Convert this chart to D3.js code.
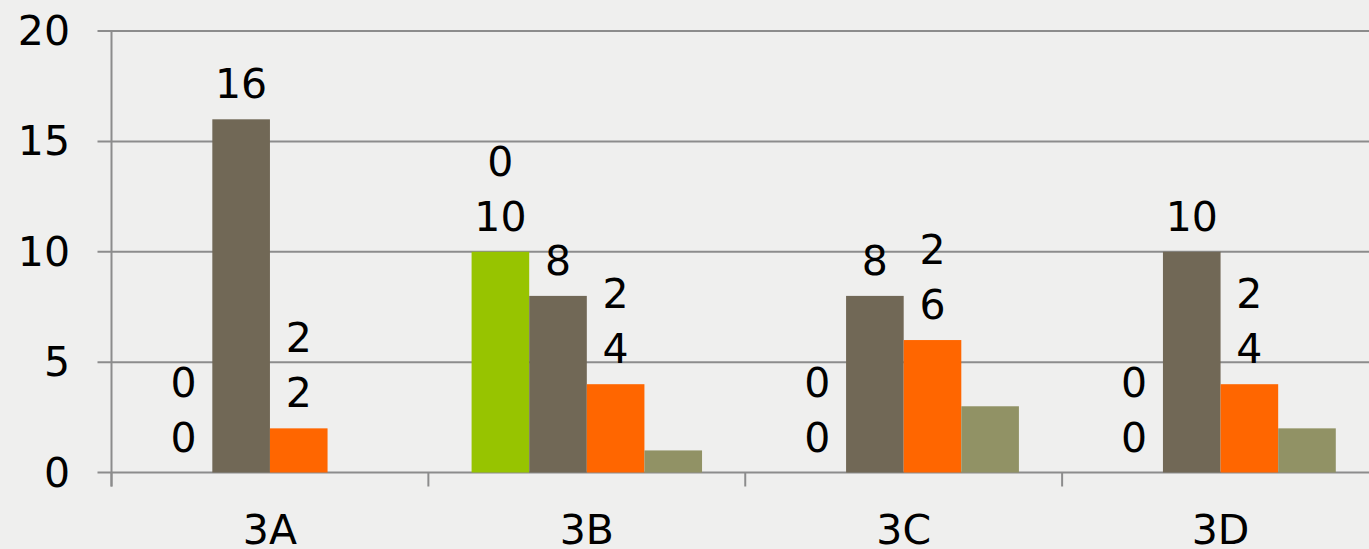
<!DOCTYPE html>
<html>
<head>
<meta charset="utf-8">
<script src="https://cdn.jsdelivr.net/npm/d3@7/dist/d3.min.js"></script>
<style>
  html, body { margin: 0; padding: 0; background: #efefee; }
  svg { display: block; }
  text { font-family: "DejaVu Sans", sans-serif; fill: #000; }
</style>
</head>
<body>
<svg id="chart" width="1369" height="549"></svg>
<script>
// ---- data ----
const categories = ["3A", "3B", "3C", "3D"];
const seriesNames = ["Series 1", "Series 2", "Series 3", "Series 4"];
const series1 = [0, 10, 0, 0];
const series2 = [16, 8, 8, 10];
const series3 = [2, 4, 6, 4];
const series4 = [0, 1, 3, 2];
// extra labels shown stacked above the labels of series 1 and series 3
const extraLabels1 = [0, 0, 0, 0];
const extraLabels3 = [2, 2, 2, 2];
const yTicks = [0, 5, 10, 15, 20];

const seriesValues = [series1, series2, series3, series4];
const seriesColors = ["#97c400", "#716856", "#ff6600", "#919265"];
const showLabel = [true, true, true, false];
const extraLabels = [extraLabels1, null, extraLabels3, null];

// ---- layout ----
const W = 1369, H = 549;
const plotLeft = 111.5, plotRight = 1379, plotTop = 31, plotBottom = 472.5;
const svg = d3.select("#chart");

const x0 = d3.scaleBand().domain(categories).range([plotLeft, plotRight]).paddingInner(0).paddingOuter(0);
const x1 = d3.scaleBand().domain(seriesNames).range([0, x0.bandwidth()]).paddingInner(0).paddingOuter(0.75);
const y = d3.scaleLinear().domain([0, 20]).range([plotBottom, plotTop]);

const fs = 41;
const axisColor = "#8c8c8c";

// gridlines
svg.append("g").selectAll("line").data(yTicks).join("line")
  .attr("x1", plotLeft - 14).attr("x2", W)
  .attr("y1", d => y(d)).attr("y2", d => y(d))
  .attr("stroke", axisColor).attr("stroke-width", 2);

// y tick labels
svg.append("g").selectAll("text").data(yTicks).join("text")
  .attr("x", 70).attr("y", d => y(d))
  .attr("text-anchor", "end").attr("dominant-baseline", "central")
  .attr("font-size", fs)
  .text(d => d);

// bars
const barData = [];
categories.forEach((c, ci) => {
  seriesNames.forEach((s, si) => {
    barData.push({ c, s, si, ci, v: seriesValues[si][ci] });
  });
});

svg.append("g").selectAll("rect").data(barData.filter(d => d.v > 0)).join("rect")
  .attr("x", d => x0(d.c) + x1(d.s))
  .attr("width", x1.bandwidth())
  .attr("y", d => y(d.v))
  .attr("height", d => y(0) - y(d.v))
  .attr("fill", d => seriesColors[d.si]);

// y axis line
svg.append("line")
  .attr("x1", plotLeft).attr("x2", plotLeft)
  .attr("y1", plotTop).attr("y2", plotBottom + 14)
  .attr("stroke", axisColor).attr("stroke-width", 2);

// category separators (ticks below the axis)
const bounds = categories.map(c => x0(c)).concat([x0(categories[categories.length - 1]) + x0.bandwidth()]);
svg.append("g").selectAll("line").data(bounds).join("line")
  .attr("x1", d => d).attr("x2", d => d)
  .attr("y1", plotBottom).attr("y2", plotBottom + 14)
  .attr("stroke", axisColor).attr("stroke-width", 2);

// category labels
svg.append("g").selectAll("text").data(categories).join("text")
  .attr("x", d => x0(d) + x0.bandwidth() / 2)
  .attr("y", 544)
  .attr("text-anchor", "middle")
  .attr("font-size", fs)
  .text(d => d);

// data labels
const labelGap = 21, stackGap = 55;
const lbl = svg.append("g");
lbl.selectAll("text.v").data(barData.filter(d => showLabel[d.si])).join("text")
  .attr("class", "v")
  .attr("x", d => x0(d.c) + x1(d.s) + x1.bandwidth() / 2)
  .attr("y", d => y(d.v) - labelGap)
  .attr("text-anchor", "middle")
  .attr("font-size", fs)
  .text(d => d.v);

lbl.selectAll("text.e").data(barData.filter(d => extraLabels[d.si])).join("text")
  .attr("class", "e")
  .attr("x", d => x0(d.c) + x1(d.s) + x1.bandwidth() / 2)
  .attr("y", d => y(d.v) - labelGap - stackGap)
  .attr("text-anchor", "middle")
  .attr("font-size", fs)
  .text(d => extraLabels[d.si][d.ci]);
</script>
</body>
</html>
